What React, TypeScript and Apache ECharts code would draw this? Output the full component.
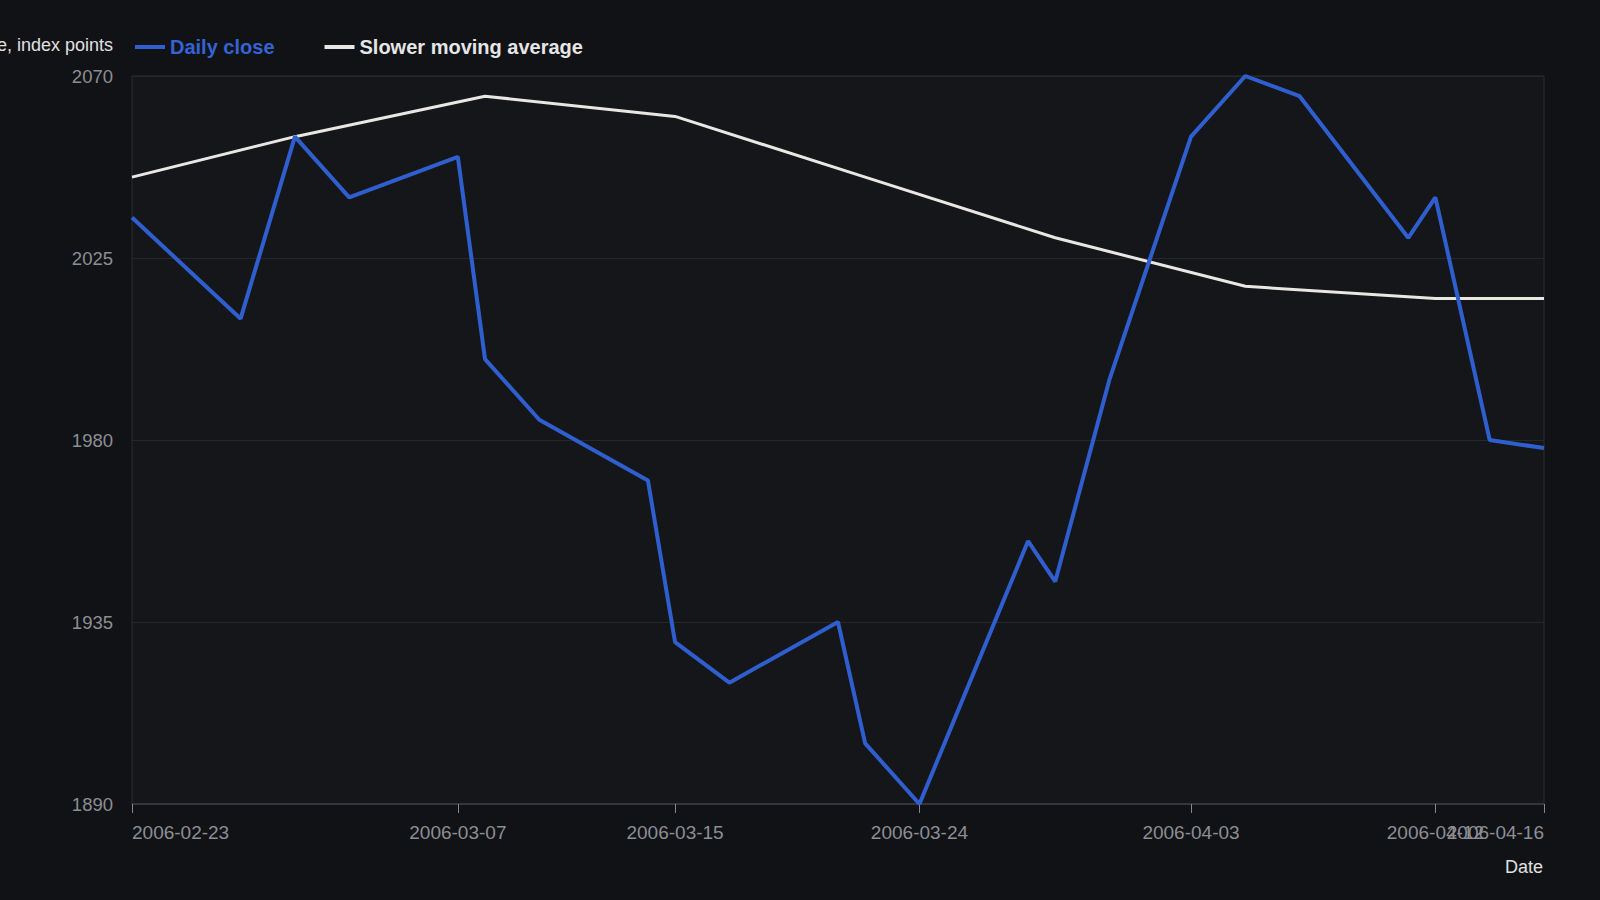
import { useEffect, useRef } from 'react';
import * as echarts from 'echarts';

// Daily closes (trading days only)
const closeDates = [
    '2006-02-23', '2006-02-27', '2006-03-01', '2006-03-03', '2006-03-07', '2006-03-08',
    '2006-03-10', '2006-03-14', '2006-03-15', '2006-03-17', '2006-03-21', '2006-03-22',
    '2006-03-24', '2006-03-28', '2006-03-29', '2006-03-31', '2006-04-03', '2006-04-05',
    '2006-04-07', '2006-04-11', '2006-04-12', '2006-04-14', '2006-04-16'
];
const closeValues = [
    2035, 2010, 2055, 2040, 2050, 2000,
    1985, 1970, 1930, 1920, 1935, 1905,
    1890, 1955, 1945, 1995, 2055, 2070,
    2065, 2030, 2040, 1980, 1978
];

// Slower moving average (weekly-ish points)
const averageDates = [
    '2006-02-23', '2006-03-01', '2006-03-08', '2006-03-15', '2006-03-22',
    '2006-03-29', '2006-04-05', '2006-04-12', '2006-04-16'
];
const averageValues = [2045, 2055, 2065, 2060, 2045, 2030, 2018, 2015, 2015];

const tickDates = ['2006-02-23', '2006-03-07', '2006-03-15', '2006-03-24', '2006-04-03', '2006-04-12'];
const lastTickDate = '2006-04-16';

const toTime = (d: string) => new Date(d + 'T00:00:00').getTime();
const pad = (n: number) => (n < 10 ? '0' + n : '' + n);
const fmtDate = (v: number) => {
    const d = new Date(v);
    return d.getFullYear() + '-' + pad(d.getMonth() + 1) + '-' + pad(d.getDate());
};

export default function App() {
    const chartRef = useRef<HTMLDivElement>(null);

    useEffect(() => {
        document.body.style.margin = '0';
        if (!chartRef.current) return;
        const chart = echarts.init(chartRef.current, null, { renderer: 'svg' });
        const font = '"Liberation Sans", Arial, sans-serif';
        const xMin = toTime(closeDates[0]);
        const xMax = toTime(closeDates[closeDates.length - 1]);
        const labelStyle = {
            color: '#8c8e93',
            fontSize: 19,
            margin: 19,
            hideOverlap: false,
            formatter: fmtDate
        };

        chart.setOption({
            animation: false,
            backgroundColor: '#111216',
            textStyle: { fontFamily: font },
            legend: {
                left: 130,
                top: 32,
                icon: 'rect',
                itemWidth: 30,
                itemHeight: 4,
                itemGap: 50,
                textStyle: { fontSize: 20, fontWeight: 'bold', fontFamily: font },
                data: [
                    { name: 'Daily close', textStyle: { color: '#3563d4' } },
                    { name: 'Slower moving average', textStyle: { color: '#e6e6e6' } }
                ]
            },
            grid: {
                left: 132,
                right: 56,
                top: 76,
                bottom: 96,
                show: true,
                backgroundColor: '#15161a',
                borderColor: '#2b2d31',
                borderWidth: 1,
                outerBoundsMode: 'none'
            },
            xAxis: [
                {
                    // timestamps on a value axis, so ticks can sit on chosen dates
                    type: 'value',
                    min: xMin,
                    max: xMax,
                    name: 'Date',
                    nameLocation: 'end',
                    nameGap: -1,
                    nameTextStyle: {
                        color: '#e0e0e0',
                        fontSize: 18,
                        align: 'right',
                        verticalAlign: 'top',
                        padding: [54, 0, 0, 0]
                    },
                    axisLine: { show: true, lineStyle: { color: '#3b3d42', width: 1.5 } },
                    axisTick: { show: true, length: 9, customValues: tickDates.map(toTime), lineStyle: { color: '#85878c' } },
                    splitLine: { show: false },
                    axisLabel: { ...labelStyle, customValues: tickDates.map(toTime), alignMinLabel: 'left' }
                },
                {
                    // second axis only for the last date, so it can overlap the one before it
                    type: 'value',
                    position: 'bottom',
                    offset: 0,
                    min: xMin,
                    max: xMax,
                    axisLine: { show: false },
                    axisTick: { show: true, length: 9, customValues: [toTime(lastTickDate)], lineStyle: { color: '#85878c' } },
                    splitLine: { show: false },
                    axisLabel: { ...labelStyle, customValues: [toTime(lastTickDate)], align: 'right' }
                }
            ],
            yAxis: {
                type: 'value',
                min: 1890,
                max: 2070,
                interval: 45,
                name: 'Close price, index points',
                nameLocation: 'end',
                nameGap: 31,
                nameTextStyle: {
                    color: '#e0e0e0',
                    fontSize: 18,
                    align: 'right',
                    verticalAlign: 'middle',
                    padding: [0, 19, 0, 0]
                },
                axisLine: { show: false },
                axisTick: { show: false },
                splitLine: { lineStyle: { color: '#25272b', width: 1 } },
                axisLabel: { color: '#8c8e93', fontSize: 18.5, margin: 19, formatter: (v: number) => String(v) }
            },
            series: [
                {
                    name: 'Daily close',
                    type: 'line',
                    xAxisIndex: 0,
                    symbol: 'none',
                    color: '#2f5fcf',
                    lineStyle: { width: 4, color: '#2f5fcf' },
                    data: closeDates.map((d, i) => [toTime(d), closeValues[i]]),
                    z: 3
                },
                {
                    name: 'Slower moving average',
                    type: 'line',
                    xAxisIndex: 0,
                    symbol: 'none',
                    color: '#e9e7e2',
                    lineStyle: { width: 3, color: '#e9e7e2' },
                    data: averageDates.map((d, i) => [toTime(d), averageValues[i]]),
                    z: 2
                }
            ]
        });

        return () => chart.dispose();
    }, []);

    return <div ref={chartRef} style={{ width: '1600px', height: '900px' }}></div>;
}
